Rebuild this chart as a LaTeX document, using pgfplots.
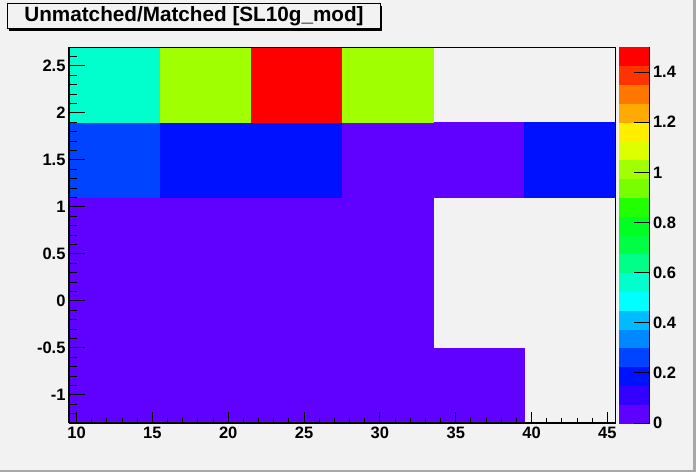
\documentclass[border=0pt]{standalone}
\usepackage{pgfplots}
\pgfplotsset{compat=1.18}
\usepackage{fontspec}
\setmainfont{Liberation Sans}
\definecolor{bg}{HTML}{F2F2F2}
\definecolor{bevel}{HTML}{A8A8A8}
\pgfplotsset{
  colormap={rootpal}{
    rgb255=(96,0,255) rgb255=(51,0,255) rgb255=(0,17,255) rgb255=(0,68,255)
    rgb255=(0,136,255) rgb255=(0,187,255) rgb255=(0,255,255) rgb255=(0,255,204)
    rgb255=(0,255,136) rgb255=(0,255,68) rgb255=(0,255,34) rgb255=(34,255,0)
    rgb255=(119,255,0) rgb255=(160,255,0) rgb255=(221,255,0) rgb255=(255,238,0)
    rgb255=(255,170,0) rgb255=(255,119,0) rgb255=(255,51,0) rgb255=(255,0,0)}
}
\newcommand{\tfont}{\fontsize{16.5}{17}\selectfont\bfseries}
\begin{document}
\begin{tikzpicture}[x=1pt,y=1pt]
\path[use as bounding box, fill=bg] (0,0) rectangle (696,472);
\fill[bevel] (693,0) rectangle (696,472);
\fill[bevel] (0,0) rectangle (696,2.5);
% title box
\fill[black] (9,441) rectangle (382,466);
\filldraw[fill=bg, draw=black, line width=1pt] (7,443) rectangle (380,468);
\node[font=\fontsize{20.7}{22}\selectfont\bfseries, inner sep=0pt] at (194,455.5) {Unmatched/Matched [SL10g\_mod]};
\begin{axis}[
  at={(69pt,49pt)}, anchor=south west, scale only axis,
  width=546pt, height=376pt,
  xmin=9.5, xmax=45.5, ymin=-1.3, ymax=2.7,
  axis on top,
  axis line style={black, line width=1pt},
  xtick=\empty,
  ytick={-1,-0.5,0,0.5,1,1.5,2,2.5},
  yticklabels={-1,-0.5,0,0.5,1,1.5,2,2.5},
  minor ytick={-1.2,-1.1,-0.9,-0.8,-0.7,-0.6,-0.4,-0.3,-0.2,-0.1,0.1,0.2,0.3,0.4,0.6,0.7,0.8,0.9,1.1,1.2,1.3,1.4,1.6,1.7,1.8,1.9,2.1,2.2,2.3,2.4,2.6},
  ytick pos=left, tick align=inside,
  major tick length=16.4pt, minor tick length=8.2pt,
  tick style={black, line width=1pt},
  yticklabel style={font=\tfont},
  colormap name=rootpal, colormap access=piecewise constant,
  point meta min=0, point meta max=1.5,
  colorbar,
  colorbar style={
    at={(parent axis.right of north east)}, anchor=north west, xshift=-5.5pt,
    scale only axis, width=31pt, height=376pt,
    ytick={0,0.2,0.4,0.6,0.8,1,1.2,1.4},
    yticklabels={0,0.2,0.4,0.6,0.8,1,1.2,1.4},
    minor ytick={},
    tick align=inside, major tick length=16pt,
    tick style={black, line width=1pt},
    axis x line=none, axis y line*=right,
    axis line style={-, black, line width=1pt},
    yticklabel style={font=\tfont},
  },
]
\addplot[patch, patch type=rectangle, shader=flat mean, point meta=explicit]
table[meta=c] {
x y c
9.5 -1.3 0.03
15.5 -1.3 0.03
15.5 -0.5 0.03
9.5 -0.5 0.03
15.5 -1.3 0.03
21.5 -1.3 0.03
21.5 -0.5 0.03
15.5 -0.5 0.03
21.5 -1.3 0.03
27.5 -1.3 0.03
27.5 -0.5 0.03
21.5 -0.5 0.03
27.5 -1.3 0.03
33.5 -1.3 0.03
33.5 -0.5 0.03
27.5 -0.5 0.03
33.5 -1.3 0.03
39.5 -1.3 0.03
39.5 -0.5 0.03
33.5 -0.5 0.03
9.5 -0.5 0.03
15.5 -0.5 0.03
15.5 0.3 0.03
9.5 0.3 0.03
15.5 -0.5 0.03
21.5 -0.5 0.03
21.5 0.3 0.03
15.5 0.3 0.03
21.5 -0.5 0.03
27.5 -0.5 0.03
27.5 0.3 0.03
21.5 0.3 0.03
27.5 -0.5 0.03
33.5 -0.5 0.03
33.5 0.3 0.03
27.5 0.3 0.03
9.5 0.3 0.03
15.5 0.3 0.03
15.5 1.1 0.03
9.5 1.1 0.03
15.5 0.3 0.03
21.5 0.3 0.03
21.5 1.1 0.03
15.5 1.1 0.03
21.5 0.3 0.03
27.5 0.3 0.03
27.5 1.1 0.03
21.5 1.1 0.03
27.5 0.3 0.03
33.5 0.3 0.03
33.5 1.1 0.03
27.5 1.1 0.03
9.5 1.1 0.25
15.5 1.1 0.25
15.5 1.9 0.25
9.5 1.9 0.25
15.5 1.1 0.18
21.5 1.1 0.18
21.5 1.9 0.18
15.5 1.9 0.18
21.5 1.1 0.18
27.5 1.1 0.18
27.5 1.9 0.18
21.5 1.9 0.18
27.5 1.1 0.04
33.5 1.1 0.04
33.5 1.9 0.04
27.5 1.9 0.04
33.5 1.1 0.04
39.5 1.1 0.04
39.5 1.9 0.04
33.5 1.9 0.04
39.5 1.1 0.18
45.5 1.1 0.18
45.5 1.9 0.18
39.5 1.9 0.18
9.5 1.9 0.56
15.5 1.9 0.56
15.5 2.7 0.56
9.5 2.7 0.56
15.5 1.9 1.0
21.5 1.9 1.0
21.5 2.7 1.0
15.5 2.7 1.0
21.5 1.9 1.46
27.5 1.9 1.46
27.5 2.7 1.46
21.5 2.7 1.46
27.5 1.9 1.0
33.5 1.9 1.0
33.5 2.7 1.0
27.5 2.7 1.0
};
\end{axis}
\begin{axis}[
  at={(69pt,49pt)}, anchor=south west, scale only axis,
  width=546pt, height=376pt,
  xmin=9.5, xmax=45.5, ymin=-1.3, ymax=2.7,
  axis x line*=bottom, axis y line*=left,
  axis line style={-, black, line width=2pt},
  ytick=\empty,
  xtick={10,15,20,25,30,35,40,45},
  xticklabels={10,15,20,25,30,35,40,45},
  minor xtick={11,12,13,14,16,17,18,19,21,22,23,24,26,27,28,29,31,32,33,34,36,37,38,39,41,42,43,44},
  tick align=inside, major tick length=11pt, minor tick length=5.5pt,
  tick style={black, line width=1pt},
  xticklabel style={font=\tfont, yshift=-0.7pt},
]
\end{axis}
\end{tikzpicture}
\end{document}
